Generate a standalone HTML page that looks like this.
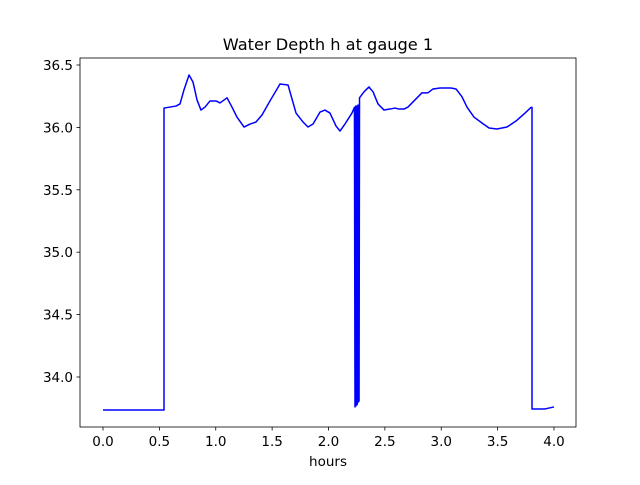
<!DOCTYPE html>
<html><head><meta charset="utf-8"><style>
body{margin:0;background:#fff;}
svg text{font-family:"DejaVu Sans","Liberation Sans",sans-serif;font-size:13.5px;fill:#000;}
</style></head><body>
<svg id="chart" width="640" height="480" xmlns="http://www.w3.org/2000/svg">
<rect width="640" height="480" fill="#fff"/>
<text x="328" y="50" text-anchor="middle" style="font-size:16.2px">Water Depth h at gauge 1</text>
<g id="plot"></g>
<rect x="80" y="58" width="496" height="369" fill="none" stroke="#000" stroke-width="0.8"/>
<text x="328" y="466" text-anchor="middle">hours</text>
</svg>
<script>
const times=[0,0.541,0.541,0.647,0.683,0.718,0.763,0.798,0.834,0.869,0.905,0.949,1.002,1.038,1.100,1.144,1.188,1.251,1.304,1.357,1.410,1.481,1.570,1.641,1.712,1.774,1.818,1.863,1.925,1.969,2.013,2.067,2.102,2.146,2.208,2.230,2.235,2.240,2.245,2.250,2.255,2.262,2.266,2.271,2.275,2.315,2.359,2.395,2.439,2.492,2.545,2.590,2.625,2.670,2.705,2.758,2.829,2.882,2.927,2.989,3.086,3.131,3.184,3.228,3.290,3.361,3.424,3.494,3.583,3.663,3.743,3.796,3.805,3.805,3.920,4.0];
const depths=[33.736,33.736,36.155,36.171,36.188,36.30,36.42,36.364,36.22,36.139,36.163,36.212,36.212,36.196,36.237,36.163,36.083,36.003,36.027,36.043,36.099,36.212,36.348,36.340,36.115,36.043,36.003,36.027,36.123,36.139,36.115,36.011,35.971,36.027,36.115,36.16,33.76,36.17,33.77,36.17,33.78,36.18,33.80,33.81,36.237,36.285,36.324,36.285,36.188,36.139,36.147,36.155,36.147,36.147,36.163,36.212,36.277,36.277,36.308,36.316,36.316,36.308,36.245,36.163,36.083,36.035,35.995,35.987,36.003,36.051,36.115,36.160,36.160,33.744,33.744,33.76];
const xTicks=[0,0.5,1,1.5,2,2.5,3,3.5,4];
const yTicks=[34.0,34.5,35.0,35.5,36.0,36.5];
const NS="http://www.w3.org/2000/svg";
const xs=t=>103+t*112.75;
const ys=v=>377-(v-34)*124.8;
const g=document.getElementById('plot');
function mk(tag,attrs){const e=document.createElementNS(NS,tag);for(const k in attrs)e.setAttribute(k,attrs[k]);g.appendChild(e);return e;}
xTicks.forEach(t=>{
 const l=mk('line',{x1:xs(t),x2:xs(t),y1:427,y2:430.5,stroke:'#000','stroke-width':0.8});
 
 
 const tx=mk('text',{x:xs(t),y:446,'text-anchor':'middle'});
 tx.textContent=t.toFixed(1);
 
 
});
yTicks.forEach(v=>{
 const l=mk('line',{x1:76.5,x2:80,y1:ys(v),y2:ys(v),stroke:'#000','stroke-width':0.8});
 
 
 const tx=mk('text',{x:73,y:ys(v)+5,'text-anchor':'end'});
 tx.textContent=v.toFixed(1);
 
 
});
const pts=times.map((t,i)=>xs(t).toFixed(2)+','+ys(depths[i]).toFixed(2)).join(' ');
const line=mk('polyline',{points:pts,fill:'none',stroke:'#0000ff','stroke-width':1.5,'stroke-linejoin':'round'});


</script>
</body></html>
